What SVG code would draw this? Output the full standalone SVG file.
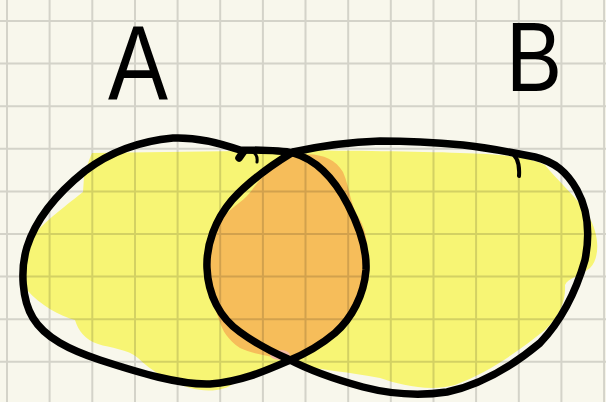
<svg xmlns="http://www.w3.org/2000/svg" width="606" height="402" viewBox="0 0 606 402">
<style>
.ink{fill:none;stroke:#000;stroke-width:7.5;stroke-linecap:round;stroke-linejoin:round}
.grid line{stroke:#dadada;stroke-width:2}
.grid{mix-blend-mode:multiply}
.lbl{font-family:"Liberation Sans",Arial,sans-serif;fill:#000;text-anchor:middle}
</style>
<rect width="606" height="402" fill="#f8f7ec"/>
<g id="fills">
<path fill="#f7f574" d="M92,153 L240,151 C300,150 400,151 460,153 C500,154 530,157 545,165 C555,178 575,195 588,215 C600,235 600,258 590,268 C580,276 568,278 565,285 C566,300 560,315 545,330 C520,350 490,372 455,385 C430,392 400,385 380,378 C350,372 320,370 300,365 L285,362 C270,365 250,372 235,382 C225,392 205,392 190,388 C170,382 150,370 138,358 C128,349 110,348 98,344 C85,340 78,330 75,320 C60,316 40,305 27,290 C20,270 25,245 40,228 C48,220 60,210 83,192 L84,177 C86,170 88,162 92,153 Z"/>
<path fill="#f6bd5a" d="M298,155 C318,152 335,158 343,172 C350,188 350,205 360,220 C370,238 368,262 366,282 C362,305 348,325 330,340 C315,350 300,356 287,360 C270,356 252,354 240,348 C228,340 222,330 220,322 C212,300 206,280 207,262 C208,240 215,225 225,215 C235,205 245,200 252,190 C265,172 280,160 298,155 Z"/>
<ellipse cx="280" cy="355" rx="10" ry="5" fill="#f4b9a6"/>
</g>
<g class="grid">
<line x1="7" y1="0" x2="7" y2="402"/><line x1="49.6" y1="0" x2="49.6" y2="402"/><line x1="92.3" y1="0" x2="92.3" y2="402"/><line x1="135" y1="0" x2="135" y2="402"/><line x1="177.6" y1="0" x2="177.6" y2="402"/><line x1="220.2" y1="0" x2="220.2" y2="402"/><line x1="262.9" y1="0" x2="262.9" y2="402"/><line x1="305.5" y1="0" x2="305.5" y2="402"/><line x1="348.2" y1="0" x2="348.2" y2="402"/><line x1="390.8" y1="0" x2="390.8" y2="402"/><line x1="433.5" y1="0" x2="433.5" y2="402"/><line x1="476.1" y1="0" x2="476.1" y2="402"/><line x1="518.8" y1="0" x2="518.8" y2="402"/><line x1="561.4" y1="0" x2="561.4" y2="402"/><line x1="604.1" y1="0" x2="604.1" y2="402"/>
<line x1="0" y1="21" x2="606" y2="21"/><line x1="0" y1="63.6" x2="606" y2="63.6"/><line x1="0" y1="106.2" x2="606" y2="106.2"/><line x1="0" y1="148.8" x2="606" y2="148.8"/><line x1="0" y1="191.4" x2="606" y2="191.4"/><line x1="0" y1="234" x2="606" y2="234"/><line x1="0" y1="276.6" x2="606" y2="276.6"/><line x1="0" y1="319.2" x2="606" y2="319.2"/><line x1="0" y1="361.8" x2="606" y2="361.8"/>
</g>
<g id="setA">
<path class="ink" d="M240,150 C260,150 280,150 293,153 C318,160 335,180 348,205 C360,228 367,250 366,270 C364,295 352,318 335,333 C322,344 305,354 288,361 C265,371 240,382 210,384 C180,385 140,373 100,360 C70,350 45,338 33,318 C22,300 20,270 27,247 C35,222 55,195 85,171 C110,152 140,141 173,138 C195,137 220,143 240,150"/>
<path class="ink" d="M244,151 L239,158"/>
<path fill="none" stroke="#000" stroke-width="3" stroke-linecap="round" d="M253,152 Q258,155 257,162"/>
<text class="lbl" x="138" y="99" font-size="106" textLength="60" lengthAdjust="spacingAndGlyphs">A</text>
</g>
<g id="setB">
<path class="ink" d="M293,152 C275,163 250,180 232,200 C215,220 206,245 207,268 C208,295 220,318 240,332 C255,343 272,352 288,359 C305,368 330,378 363,387 C390,394 420,396 447,392 C480,385 510,368 540,343 C560,322 575,295 585,260 C590,235 588,210 577,190 C567,172 555,162 535,157 C510,152 490,148 463,145 C430,142 405,141 380,141 C350,142 320,146 293,152"/>
<path fill="none" stroke="#000" stroke-width="4" stroke-linecap="round" d="M508,151 C516,154 520,162 519,176"/>
<text class="lbl" x="534" y="91" font-size="98" textLength="56" lengthAdjust="spacingAndGlyphs">B</text>
</g>
</svg>
